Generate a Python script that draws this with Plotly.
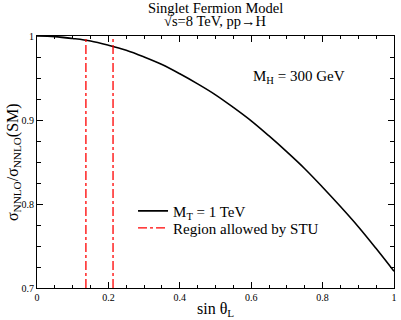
import plotly.graph_objects as go

# sin(theta_L) grid and cross-section ratio
sin_theta = [0.0, 0.05, 0.1, 0.15, 0.2, 0.25, 0.3, 0.35, 0.4, 0.45, 0.5,
             0.55, 0.6, 0.65, 0.7, 0.75, 0.8, 0.85, 0.9, 0.95, 1.0]
ratio = [1.000, 0.9993, 0.997, 0.994, 0.989, 0.983, 0.975, 0.966, 0.955, 0.943, 0.930,
         0.915, 0.899, 0.881, 0.862, 0.842, 0.820, 0.797, 0.773, 0.747, 0.720]

# bounds on sin(theta_L) allowed by STU
stu_bounds = [0.137, 0.213]
y_lo, y_hi = 0.7, 1.0

FONT = "Liberation Serif, Times New Roman, serif"

fig = go.Figure()
fig.add_trace(go.Scatter(
    x=sin_theta, y=ratio, mode="lines", line=dict(color="black", width=1.6),
    line_shape="spline", name="M<sub>T</sub> = 1 TeV", legend="legend",
))

vx, vy = [], []
for b in stu_bounds:
    vx += [b, b, None]
    vy += [y_lo, y_hi, None]
fig.add_trace(go.Scatter(
    x=vx, y=vy, mode="lines", line=dict(color="#ff0000", width=1.3, dash="dashdot"),
    name="Region allowed by STU", legend="legend2",
))

axis_common = dict(
    showline=True, linecolor="black", linewidth=1.2, mirror="ticks",
    ticks="inside", ticklen=6, tickcolor="black", tickwidth=1,
    showgrid=False, zeroline=False,
    tickfont=dict(family=FONT, size=10, color="black"),
)

fig.update_xaxes(
    range=[0, 1], dtick=0.2, tick0=0,
    minor=dict(ticks="inside", dtick=0.05, ticklen=3, tickcolor="black"),
    **axis_common,
)
fig.update_yaxes(
    range=[y_lo, y_hi], dtick=0.1, tick0=0.7,
    minor=dict(ticks="inside", dtick=0.025, ticklen=4, tickcolor="black"),
    **axis_common,
)

title_font = dict(family=FONT, size=14.5, color="black")
label_font = dict(family=FONT, size=16, color="black")

# two-line title
fig.add_annotation(x=0.5, y=1, xref="paper", yref="paper", yanchor="middle",
                   yshift=28, showarrow=False, text="Singlet Fermion Model", font=title_font)
fig.add_annotation(x=0.5, y=1, xref="paper", yref="paper", yanchor="middle",
                   yshift=15, showarrow=False, text="√s=8 TeV, pp→H", font=title_font)

# axis titles
fig.add_annotation(x=0.5, y=0, xref="paper", yref="paper", yanchor="middle",
                   yshift=-21, showarrow=False, text="sin θ<sub>L</sub>", font=label_font)
fig.add_annotation(x=0, y=0.5, xref="paper", yref="paper", xanchor="center",
                   yanchor="middle", xshift=-24, textangle=-90, showarrow=False,
                   text="σ<sub>NNLO</sub>/σ<sub>NNLO</sub>(SM)", font=label_font)

fig.add_annotation(
    x=0.735, y=0.951, xref="x", yref="y", showarrow=False,
    text="M<sub>H</sub> = 300 GeV", font=dict(family=FONT, size=15, color="black"),
)

leg_common = dict(xanchor="left", yanchor="middle", bgcolor="rgba(0,0,0,0)",
                  itemwidth=30, font=dict(family=FONT, size=15, color="black"))

fig.update_layout(
    width=401, height=320,
    margin=dict(l=37, r=4, t=36, b=32),
    paper_bgcolor="white", plot_bgcolor="white",
    legend=dict(x=0.269, y=0.305, **leg_common),
    legend2=dict(x=0.269, y=0.2375, **leg_common),
    showlegend=True,
)

fig.write_html("out.html", config={"displayModeBar": False},
               post_script="document.body.style.margin='0';")
